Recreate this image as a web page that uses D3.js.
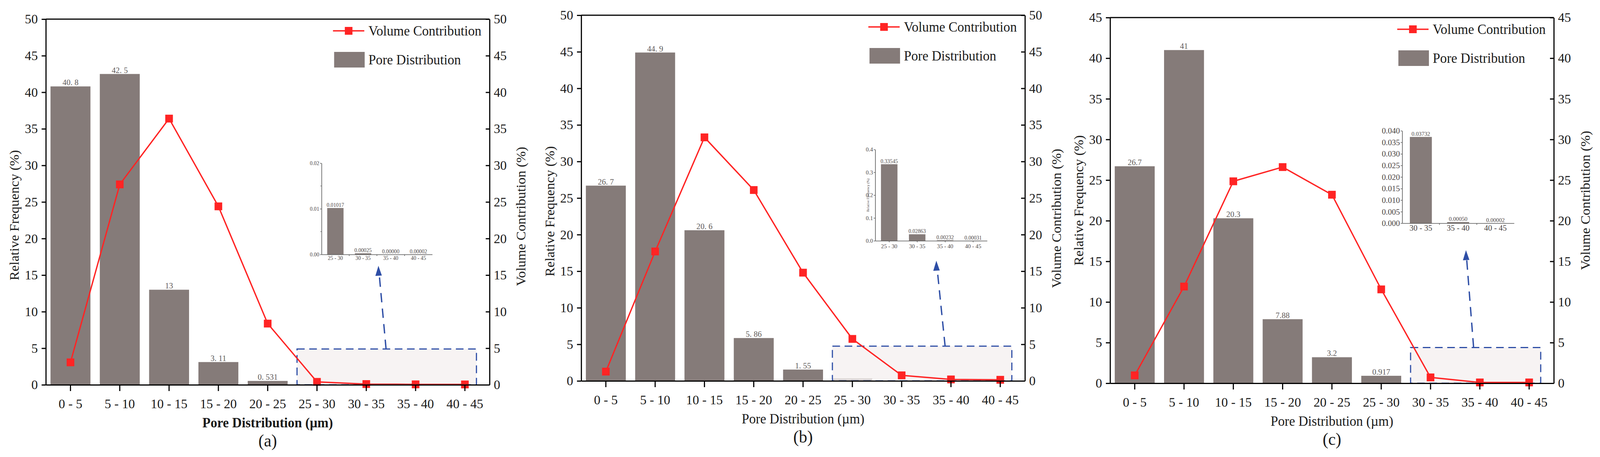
<!DOCTYPE html>
<html>
<head>
<meta charset="utf-8">
<script src="https://cdn.jsdelivr.net/npm/d3@7"></script>
<style>
  html, body { margin: 0; padding: 0; background: #fff; overflow: hidden; width: 100%; height: 100%; }
  #chart { width: 100vw; height: 100vh; }
  svg { display: block; }
  text { font-family: "Liberation Serif", "Times New Roman", serif; }
</style>
</head>
<body>
<div id="chart"></div>
<script>
// categories (pore size classes)
const categories = ['0 - 5', '5 - 10', '10 - 15', '15 - 20', '20 - 25', '25 - 30', '30 - 35', '35 - 40', '40 - 45'];

// relative frequency (%) - bars
const freqA = [40.8, 42.5, 13, 3.11, 0.531, 0.01017, 0.00025, 0.00000, 0.00002];
const freqB = [26.7, 44.9, 20.6, 5.86, 1.55, 0.33545, 0.02863, 0.00232, 0.00031];
const freqC = [26.7, 41, 20.3, 7.88, 3.2, 0.917, 0.03732, 0.00050, 0.00002];

// volume contribution (%) - line
const volA = [3.07, 27.4, 36.4, 24.4, 8.37, 0.4, 0.1, 0.06, 0.05];
const volB = [1.27, 17.7, 33.3, 26.1, 14.8, 5.74, 0.76, 0.2, 0.15];
const volC = [0.97, 11.9, 24.85, 26.6, 23.2, 11.55, 0.72, 0.1, 0.1];

// bar value labels as printed
const labelsA = ['40. 8', '42. 5', '13', '3. 11', '0. 531'];
const labelsB = ['26. 7', '44. 9', '20. 6', '5. 86', '1. 55'];
const labelsC = ['26.7', '41', '20.3', '7.88', '3.2', '0.917'];

// y axis ranges and ticks
const yMaxA = 50, yMaxB = 50, yMaxC = 45;
const insetTicksA = [0, 0.01, 0.02];
const insetMinorA = [0.005, 0.015];
const insetTicksB = [0, 0.1, 0.2, 0.3, 0.4];
const insetTicksC = [0, 0.005, 0.01, 0.015, 0.02, 0.025, 0.03, 0.035, 0.04];

const width = 4190;
const height = 1171;
const W = 1162, H = 937;
const barColor = '#857b79';
const red = '#ff2424';
const blue = '#2e4ea6';

// fill the whole window whatever its real pixel size
const svg = d3.select('#chart')
    .append('svg')
    .attr('width', '100%')
    .attr('height', '100%')
    .attr('viewBox', `0 0 ${width} ${height}`)
    .attr('preserveAspectRatio', 'none')
    .style('background', '#fff');

const panels = [
    {
        tag: '(a)', freq: freqA, vol: volA, labels: labelsA, yMax: yMaxA, boldTitle: true,
        insetFrom: 5, insetTicks: insetTicksA, insetMinor: insetMinorA, insetFmt: '.2f', insetMax: 0.02,
        layout: { left: 120, top: 49, lTitleDy: 34, rTitleDy: 37, boxTop: 4.9, arrowX: 891, tip: [871, 632],
            inset: { x: 722, y: 369, w: 290, h: 234, tickFont: 14, catFont: 14, valFont: 14, atCenters: false } }
    },
    {
        tag: '(b)', freq: freqB, vol: volB, labels: labelsB, yMax: yMaxB, boldTitle: false,
        insetFrom: 5, insetTicks: insetTicksB, insetMinor: [], insetFmt: '.1f', insetMax: 0.4, insetTitle: true,
        layout: { left: 1522, top: 39, lTitleDy: 34, rTitleDy: 52, boxTop: 4.75, arrowX: 953, tip: [930, 629],
            inset: { x: 770, y: 344, w: 293, h: 234, tickFont: 15, catFont: 15, valFont: 14, atCenters: true } }
    },
    {
        tag: '(c)', freq: freqC, vol: volC, labels: labelsC, yMax: yMaxC, boldTitle: false,
        insetFrom: 6, insetTicks: insetTicksC, insetMinor: [], insetFmt: '.3f', insetMax: 0.04,
        layout: { left: 2907, top: 45, lTitleDy: 0, rTitleDy: 0, boxTop: 4.4, arrowX: 952, tip: [932, 596],
            inset: { x: 765, y: 290, w: 293, h: 237, tickFont: 21, catFont: 21, valFont: 15, atCenters: false } }
    }
];

const drawPanel = p => {
    const L = p.layout;
    const g = svg.append('g').attr('transform', `translate(${L.left},${L.top})`);

    const x = d3.scaleBand().domain(categories).range([0, W]).paddingInner(0.19).paddingOuter(0.095);
    const yL = d3.scaleLinear().domain([0, p.yMax]).range([H, 0]);
    const yR = d3.scaleLinear().domain([0, p.yMax]).range([H, 0]);
    const bw = x.bandwidth();
    const cx = c => x(c) + bw / 2;

    // bars
    g.append('g')
        .selectAll('rect')
        .data(categories)
        .enter()
        .append('rect')
        .attr('x', d => x(d))
        .attr('width', bw)
        .attr('y', (d, i) => yL(p.freq[i]))
        .attr('height', (d, i) => H - yL(p.freq[i]))
        .attr('fill', barColor);

    // bar labels
    g.append('g')
        .selectAll('text')
        .data(p.labels)
        .enter()
        .append('text')
        .attr('x', (d, i) => cx(categories[i]))
        .attr('y', (d, i) => yL(p.freq[i]) - 3)
        .attr('text-anchor', 'middle')
        .style('font-size', '21px')
        .style('fill', '#5e5a5a')
        .text(d => d);

    // zoom box
    const boxCats = categories.slice(p.insetFrom);
    const bx0 = x(boxCats[0]);
    const bx1 = x(boxCats[boxCats.length - 1]) + bw - 22;
    g.append('rect')
        .attr('x', bx0)
        .attr('y', yL(L.boxTop))
        .attr('width', bx1 - bx0)
        .attr('height', H - yL(L.boxTop))
        .attr('fill', '#f4efef')
        .attr('fill-opacity', 0.75)
        .attr('stroke', blue)
        .attr('stroke-width', 3)
        .style('stroke-dasharray', '20,12');

    // arrow
    g.append('line')
        .attr('x1', L.arrowX)
        .attr('y1', yL(L.boxTop))
        .attr('x2', L.tip[0] + (L.arrowX - L.tip[0]) * 22 / (yL(L.boxTop) - L.tip[1]))
        .attr('y2', L.tip[1] + 22)
        .attr('stroke', blue)
        .attr('stroke-width', 3.5)
        .style('stroke-dasharray', '24,16');
    g.append('path')
        .attr('d', `M${L.tip[0]},${L.tip[1]} L${L.tip[0] - 8},${L.tip[1] + 26} L${L.tip[0] + 9},${L.tip[1] + 25} Z`)
        .attr('fill', blue);

    // line
    g.append('path')
        .datum(p.vol)
        .attr('fill', 'none')
        .attr('stroke', red)
        .attr('stroke-width', 3.5)
        .attr('d', d3.line().x((d, i) => cx(categories[i])).y(d => yR(d)));

    g.append('g')
        .selectAll('rect')
        .data(p.vol)
        .enter()
        .append('rect')
        .attr('x', (d, i) => cx(categories[i]) - 10)
        .attr('y', d => yR(d) - 10)
        .attr('width', 20)
        .attr('height', 20)
        .attr('fill', red);

    // axes
    const yTicks = d3.range(0, p.yMax + 1, 5);
    const styleAxis = a => {
        a.select('.domain').attr('stroke', '#000').attr('stroke-width', 3);
        a.selectAll('.tick line').attr('stroke', '#000').attr('stroke-width', 3);
        a.selectAll('.tick text').style('font-size', '34px').style('fill', '#1a1a1a')
            .style('font-family', '"Liberation Serif", serif');
    };

    g.append('g')
        .call(d3.axisLeft(yL).tickValues(yTicks).tickSize(11).tickSizeOuter(0).tickPadding(10))
        .call(styleAxis);
    g.append('g')
        .attr('transform', `translate(${W},0)`)
        .call(d3.axisRight(yR).tickValues(yTicks).tickSize(-10).tickSizeOuter(0).tickPadding(11))
        .call(styleAxis);
    g.append('g')
        .attr('transform', `translate(0,${H})`)
        .call(d3.axisBottom(x).tickSize(16).tickSizeOuter(0).tickPadding(20))
        .call(styleAxis);
    g.append('line')
        .attr('x1', 0).attr('x2', W).attr('y1', 0).attr('y2', 0)
        .attr('stroke', '#000').attr('stroke-width', 3);

    // axis titles
    g.append('text')
        .attr('transform', `translate(-83,${H / 2 + L.lTitleDy}) rotate(-90)`)
        .attr('text-anchor', 'middle')
        .attr('dominant-baseline', 'central')
        .style('font-size', '35px')
        .style('fill', '#1a1a1a')
        .text('Relative Frequency (%)');
    g.append('text')
        .attr('transform', `translate(${W + 82},${H / 2 + L.rTitleDy}) rotate(-90)`)
        .attr('text-anchor', 'middle')
        .attr('dominant-baseline', 'central')
        .style('font-size', '35px')
        .style('fill', '#1a1a1a')
        .text('Volume Contribution (%)');
    g.append('text')
        .attr('x', W / 2)
        .attr('y', H + 97)
        .attr('text-anchor', 'middle')
        .attr('dominant-baseline', 'central')
        .style('font-size', '35px')
        .style('font-weight', p.boldTitle ? 'bold' : 'normal')
        .style('fill', '#1a1a1a')
        .text('Pore Distribution (\u00b5m)');
    g.append('text')
        .attr('x', W / 2)
        .attr('y', H + 143)
        .attr('text-anchor', 'middle')
        .attr('dominant-baseline', 'central')
        .style('font-size', '44px')
        .style('fill', '#1a1a1a')
        .text(p.tag);

    // legend
    const lg = g.append('g').attr('transform', 'translate(752,30)');
    lg.append('line').attr('x1', 0).attr('x2', 82).attr('y1', 0).attr('y2', 0)
        .attr('stroke', red).attr('stroke-width', 3.5);
    lg.append('rect').attr('x', 31).attr('y', -10).attr('width', 20).attr('height', 20).attr('fill', red);
    lg.append('text').attr('x', 93).attr('y', 0).attr('dominant-baseline', 'central')
        .style('font-size', '35px').style('fill', '#1a1a1a').text('Volume Contribution');
    lg.append('rect').attr('x', 3).attr('y', 54).attr('width', 80).attr('height', 40).attr('fill', barColor);
    lg.append('text').attr('x', 93).attr('y', 74).attr('dominant-baseline', 'central')
        .style('font-size', '35px').style('fill', '#1a1a1a').text('Pore Distribution');

    // inset
    const I = L.inset;
    const ig = g.append('g').attr('transform', `translate(${I.x},${I.y})`);
    const insetCats = categories.slice(p.insetFrom);
    const insetVals = p.freq.slice(p.insetFrom);
    const xi = d3.scaleBand().domain(insetCats).range([0, I.w]).paddingInner(0.41).paddingOuter(0.205);
    const yi = d3.scaleLinear().domain([0, p.insetMax]).range([I.h, 0]);
    const ibw = xi.bandwidth();
    const fmt = d3.format(p.insetFmt);

    ig.append('g')
        .selectAll('rect')
        .data(insetCats)
        .enter()
        .append('rect')
        .attr('x', d => xi(d))
        .attr('width', ibw)
        .attr('y', (d, i) => yi(insetVals[i]))
        .attr('height', (d, i) => Math.max(I.h - yi(insetVals[i]), 0))
        .attr('fill', barColor);
    ig.append('g')
        .selectAll('text')
        .data(insetVals)
        .enter()
        .append('text')
        .attr('x', (d, i) => xi(insetCats[i]) + ibw / 2)
        .attr('y', d => yi(d) - 3)
        .attr('text-anchor', 'middle')
        .style('font-size', I.valFont + 'px')
        .style('fill', '#4a4444')
        .text(d => d3.format('.5f')(d));

    const styleInset = (a, fs) => {
        a.select('.domain').attr('stroke', '#555').attr('stroke-width', 1.6);
        a.selectAll('.tick line').attr('stroke', '#555').attr('stroke-width', 1.4);
        a.selectAll('.tick text').style('font-size', fs + 'px').style('fill', '#4a4444')
            .style('font-family', '"Liberation Serif", serif');
    };
    ig.append('g')
        .call(d3.axisLeft(yi).tickValues(p.insetTicks).tickFormat(fmt).tickSize(4).tickSizeOuter(0).tickPadding(2))
        .call(a => styleInset(a, I.tickFont));
    ig.append('g')
        .selectAll('line')
        .data(p.insetMinor)
        .enter()
        .append('line')
        .attr('x1', -3).attr('x2', 0)
        .attr('y1', d => yi(d)).attr('y2', d => yi(d))
        .attr('stroke', '#555').attr('stroke-width', 1.2);
    ig.append('g')
        .attr('transform', `translate(0,${I.h})`)
        .call(d3.axisBottom(xi).tickSize(I.atCenters ? 4 : 0).tickSizeOuter(0).tickPadding(4))
        .call(a => styleInset(a, I.catFont));
    if (!I.atCenters) {
        ig.append('g')
            .selectAll('line')
            .data(insetCats.slice(1))
            .enter()
            .append('line')
            .attr('x1', d => xi(d) - xi.step() * xi.paddingInner() / 2)
            .attr('x2', d => xi(d) - xi.step() * xi.paddingInner() / 2)
            .attr('y1', I.h).attr('y2', I.h + 4)
            .attr('stroke', '#555').attr('stroke-width', 1.4);
    }
    if (p.insetTitle) {
        ig.append('text')
            .attr('transform', `translate(-19,${I.h / 2}) rotate(-90)`)
            .attr('text-anchor', 'middle')
            .attr('dominant-baseline', 'central')
            .style('font-size', '9px')
            .style('fill', '#4a4444')
            .text('Relative Frequency (%)');
    }
};

panels.forEach(drawPanel);
</script>
</body>
</html>
